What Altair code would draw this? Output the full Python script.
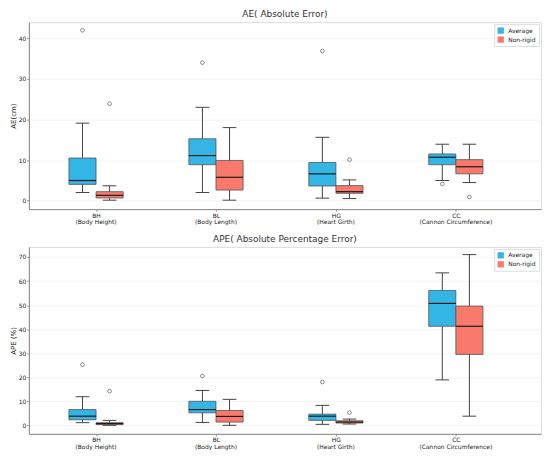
import altair as alt
import pandas as pd

categories = ["BH", "BL", "HG", "CC"]
cat_names = ["(Body Height)", "(Body Length)", "(Heart Girth)", "(Cannon Circumference)"]
series = ["Average", "Non-rigid"]
colors = ["#33B5E6", "#F97A6D"]

# AE (cm)
ae_avg_low = [2.0, 2.0, 0.6, 4.95]
ae_avg_q1 = [4.0, 8.85, 3.6, 8.85]
ae_avg_med = [4.95, 11.1, 6.6, 10.7]
ae_avg_q3 = [10.5, 15.25, 9.4, 11.5]
ae_avg_high = [19.1, 23.0, 15.6, 13.9]
ae_avg_out = [[42.0], [34.0], [36.9], [4.1]]
ae_nr_low = [0.1, 0.1, 0.5, 4.45]
ae_nr_q1 = [0.65, 2.6, 1.8, 6.6]
ae_nr_med = [1.3, 5.75, 2.2, 8.35]
ae_nr_q3 = [2.2, 9.9, 3.7, 10.1]
ae_nr_high = [3.65, 18.0, 5.1, 13.9]
ae_nr_out = [[23.9], [], [10.1], [0.9]]

# APE (%)
ape_avg_low = [1.1, 1.2, 0.4, 18.9]
ape_avg_q1 = [2.3, 5.2, 2.05, 41.2]
ape_avg_med = [3.8, 6.55, 3.8, 50.7]
ape_avg_q3 = [6.55, 10.0, 4.65, 56.1]
ape_avg_high = [11.9, 14.5, 8.3, 63.4]
ape_avg_out = [[25.2], [20.5], [18.0], []]
ape_nr_low = [0.0, 0.0, 0.55, 3.8]
ape_nr_q1 = [0.3, 1.35, 0.95, 29.5]
ape_nr_med = [0.7, 3.7, 1.35, 41.2]
ape_nr_q3 = [1.1, 6.15, 1.9, 49.6]
ape_nr_high = [2.05, 10.8, 2.6, 71.0]
ape_nr_out = [[14.2], [], [5.3], []]

FONT = "DejaVu Sans"
TXT = "#222222"
OFF = 0.113
HALF = 0.113
CAP = 0.057


def build(stats_avg, stats_nr, outs_avg, outs_nr):
    rows, orows = [], []
    for s_i, (name, st, outs) in enumerate([("Average", stats_avg, outs_avg), ("Non-rigid", stats_nr, outs_nr)]):
        sign = -1 if s_i == 0 else 1
        for i, c in enumerate(categories):
            p = i + sign * OFF
            rows.append(dict(cat=c, series=name, pos=p, boxL=p - HALF, boxR=p + HALF,
                             capL=p - CAP, capR=p + CAP,
                             low=st[0][i], q1=st[1][i], med=st[2][i], q3=st[3][i], high=st[4][i]))
            for v in outs[i]:
                orows.append(dict(cat=c, series=name, pos=p, val=v))
    return pd.DataFrame(rows), pd.DataFrame(orows)


label_expr = "".join(
    f"datum.value == {i} ? '{c}' : " for i, c in enumerate(categories)
) + "''"
names_df = pd.DataFrame({"gpos": list(range(len(categories))), "name": cat_names})


def panel(df, odf, title, ytitle, ydomain, yticks, W, H):
    xs = alt.Scale(domain=[-0.56, 3.71], nice=False, zero=False)
    xax = alt.Axis(values=[0, 1, 2, 3], labelExpr=label_expr, title=None, grid=False,
                   tickSize=2, labelFontSize=6, labelPadding=1,
                   labelOverlap=False, labelFont=FONT, labelColor=TXT,
                   domainColor="#888", tickColor="#888")
    ys = alt.Scale(domain=ydomain, nice=False, zero=False)
    yax = alt.Axis(values=yticks, title=ytitle, titleFontSize=7, titleFont=FONT,
                   titleFontWeight="normal", titleColor=TXT, titlePadding=2,
                   labelFontSize=6, labelFont=FONT, labelColor=TXT, labelPadding=1,
                   labelOverlap=False, tickSize=2, grid=True, gridColor="#ececec", gridWidth=0.6,
                   domainColor="#888", tickColor="#888")
    X = lambda f: alt.X(f, scale=xs, axis=xax)
    Y = lambda f: alt.Y(f, scale=ys, axis=yax)
    base = alt.Chart(df)
    whisk = base.mark_rule(color="#444", strokeWidth=1).encode(x=X("pos:Q"), y=Y("low:Q"), y2="high:Q")
    cap_lo = base.mark_rule(color="#444", strokeWidth=1).encode(x=X("capL:Q"), x2="capR:Q", y=Y("low:Q"))
    cap_hi = base.mark_rule(color="#444", strokeWidth=1).encode(x=X("capL:Q"), x2="capR:Q", y=Y("high:Q"))
    box = base.mark_bar(stroke="#555", strokeWidth=0.8, opacity=1).encode(
        x=X("boxL:Q"), x2="boxR:Q", y=Y("q1:Q"), y2="q3:Q",
        color=alt.Color("series:N", scale=alt.Scale(domain=series, range=colors),
                        legend=alt.Legend(title=None, orient="top-right", symbolType="square",
                                          symbolSize=40, labelFontSize=6, labelFont=FONT,
                                          labelColor=TXT, strokeColor="#dddddd",
                                          padding=3, offset=2, rowPadding=2, symbolStrokeWidth=0,
                                          fillColor="white")),
    )
    med = base.mark_rule(color="#1a1a1a", strokeWidth=1.2).encode(x=X("boxL:Q"), x2="boxR:Q", y=Y("med:Q"))
    out = alt.Chart(odf).mark_point(shape="circle", filled=False, color="#333", size=14,
                                    strokeWidth=0.8).encode(x=X("pos:Q"), y=Y("val:Q"))
    names = alt.Chart(names_df).mark_text(fontSize=6, font=FONT, color=TXT, baseline="top",
                                          align="center").encode(
        x=X("gpos:Q"), y=alt.value(H + 10), text="name:N")
    return alt.layer(whisk, cap_lo, cap_hi, box, med, out, names).properties(
        width=W, height=H,
        title=alt.TitleParams(title, fontSize=9, font=FONT, fontWeight="normal", color="#333",
                              offset=3, anchor="middle"),
    )


ae_df, ae_o = build([ae_avg_low, ae_avg_q1, ae_avg_med, ae_avg_q3, ae_avg_high],
                    [ae_nr_low, ae_nr_q1, ae_nr_med, ae_nr_q3, ae_nr_high], ae_avg_out, ae_nr_out)
ape_df, ape_o = build([ape_avg_low, ape_avg_q1, ape_avg_med, ape_avg_q3, ape_avg_high],
                      [ape_nr_low, ape_nr_q1, ape_nr_med, ape_nr_q3, ape_nr_high], ape_avg_out, ape_nr_out)

top = panel(ae_df, ae_o, "AE( Absolute Error)", "AE(cm)", [-2.1, 44.0], [0, 10, 20, 30, 40], 515, 188)
bot = panel(ape_df, ape_o, "APE( Absolute Percentage Error)", "APE (%)", [-3.55, 74.2],
            [0, 10, 20, 30, 40, 50, 60, 70], 515, 188)

chart = alt.vconcat(top, bot, spacing=8).resolve_scale(color="independent").resolve_legend(
    color="independent"
).properties(padding=0).configure_view(stroke="#888", strokeWidth=1).configure(background="white")

chart.save("out.html", embed_options={"renderer": "svg", "actions": False})
